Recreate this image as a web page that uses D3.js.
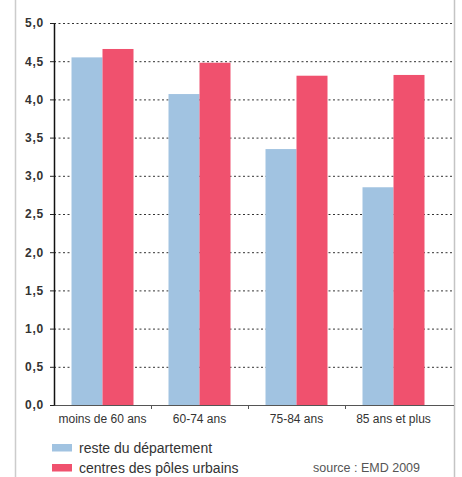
<!DOCTYPE html>
<html lang="fr">
<head>
<meta charset="UTF-8">
<title>Graphique</title>
<script src="https://d3js.org/d3.v7.min.js"></script>
<style>
  body { margin: 0; background: #fff; }
  svg { display: block; font-family: "Liberation Sans", Arial, sans-serif; }
  .grid line { stroke: #333; stroke-dasharray: 2,2.5; }
  .grid path { display: none; }
  .yaxis text { font-weight: bold; font-size: 12px; fill: #333; letter-spacing: 0.8px; }
  .yaxis line { stroke: #222; }
  .yaxis path { stroke: #111; stroke-width: 1.5; }
  .xaxis text { font-size: 12px; fill: #333; }
  .xaxis path, .xaxis line { display: none; }
</style>
</head>
<body>
<script>
var categories = ["moins de 60 ans", "60-74 ans", "75-84 ans", "85 ans et plus"];
var seriesNames = ["reste du département", "centres des pôles urbains"];
var reste = [4.55, 4.07, 3.35, 2.85];
var centres = [4.66, 4.48, 4.31, 4.32];
var yTicks = [0, 0.5, 1, 1.5, 2, 2.5, 3, 3.5, 4, 4.5, 5];
var colors = ["#a1c3e1", "#f0516e"];

var width = 462, height = 477;
var mLeft = 54, mRight = 454, mTop = 23, mBottom = 405;

var svg = d3.select("body").append("svg")
    .attr("width", width)
    .attr("height", height);

// cadre gris
svg.append("line").attr("x1", 15.5).attr("x2", 15.5).attr("y1", 0).attr("y2", height)
    .attr("stroke", "#ccc").attr("stroke-width", 1.5);
svg.append("line").attr("x1", 454.5).attr("x2", 454.5).attr("y1", 0).attr("y2", height)
    .attr("stroke", "#c4c4c4").attr("stroke-width", 1.5);

var x = d3.scaleBand().domain(categories).range([mLeft, 442]);
var xs = d3.scaleBand().domain(seriesNames).range([0, 62]);
var y = d3.scaleLinear().domain([0, 5]).range([mBottom, mTop]);

var fmt = function(d) { return d3.format(".1f")(d).replace(".", ","); };

// grille pointillée
svg.append("g")
    .attr("class", "grid")
    .attr("transform", "translate(" + mLeft + ",0)")
    .call(d3.axisRight(y).tickValues(yTicks.slice(1)).tickSize(mRight - mLeft).tickFormat(""));

// barres
var rows = categories.map(function(c, i) { return {cat: c, values: [reste[i], centres[i]]}; });
var groups = svg.append("g").selectAll("g")
    .data(rows).enter().append("g")
    .attr("transform", function(d) { return "translate(" + (x(d.cat) + x.bandwidth() / 2 - 31) + ",0)"; });

groups.selectAll("rect")
    .data(function(d) { return d.values.map(function(v, j) { return {name: seriesNames[j], value: v, j: j}; }); })
    .enter().append("rect")
    .attr("x", function(d) { return xs(d.name); })
    .attr("width", xs.bandwidth())
    .attr("y", function(d) { return y(d.value); })
    .attr("height", function(d) { return mBottom - y(d.value); })
    .attr("fill", function(d) { return colors[d.j]; });

// axe horizontal
svg.append("line").attr("x1", mLeft).attr("x2", mRight).attr("y1", mBottom + 0.5).attr("y2", mBottom + 0.5)
    .attr("stroke", "#555").attr("stroke-width", 1);
svg.append("g").selectAll("line")
    .data(categories.slice(1)).enter().append("line")
    .attr("x1", function(d) { return Math.round(x(d)) + 0.5; })
    .attr("x2", function(d) { return Math.round(x(d)) + 0.5; })
    .attr("y1", mBottom).attr("y2", mBottom + 4)
    .attr("stroke", "#555");

svg.append("g")
    .attr("class", "xaxis")
    .attr("transform", "translate(0," + mBottom + ")")
    .call(d3.axisBottom(x).tickSize(0).tickPadding(9));

// axe vertical
svg.append("g")
    .attr("class", "yaxis")
    .attr("transform", "translate(" + mLeft + ",0)")
    .call(d3.axisLeft(y).tickValues(yTicks).tickSize(4).tickSizeOuter(0).tickPadding(6).tickFormat(fmt));

// légende
var legend = svg.append("g").selectAll("g")
    .data(seriesNames).enter().append("g")
    .attr("transform", function(d, i) { return "translate(52," + (444 + i * 20) + ")"; });
legend.append("rect").attr("width", 20).attr("height", 7.5)
    .attr("fill", function(d, i) { return colors[i]; });
legend.append("text").attr("x", 27).attr("y", 8.7)
    .attr("font-size", "14px").attr("fill", "#333")
    .text(function(d) { return d; });

svg.append("text")
    .attr("x", 313).attr("y", 472)
    .attr("font-size", "12.5px").attr("fill", "#555")
    .text("source : EMD 2009");
</script>
</body>
</html>
